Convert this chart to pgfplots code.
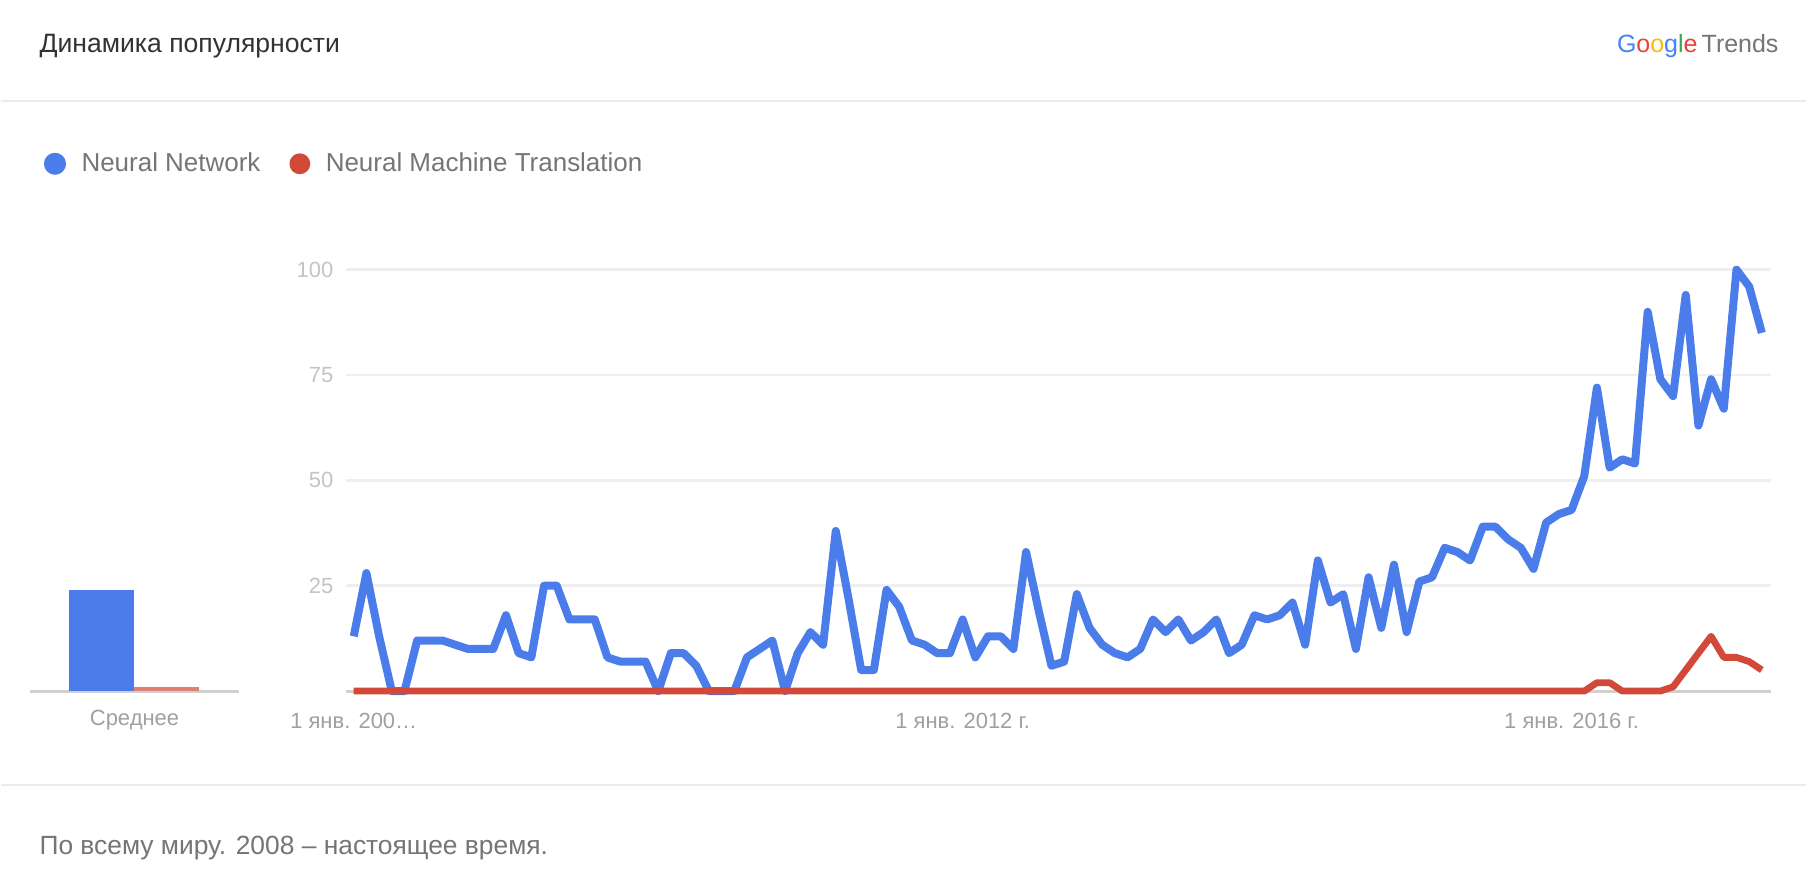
\documentclass[border=0pt]{standalone}
\usepackage{fontspec}
\setmainfont{Liberation Sans}
\usepackage{pgfplots}
\usepackage{pgfplotstable}
\pgfplotsset{compat=1.18}
\definecolor{nnblue}{HTML}{4A7DE9}
\definecolor{nmtred}{HTML}{D2493A}
\definecolor{gridgray}{HTML}{EFEFEF}
\definecolor{basegray}{HTML}{D0D0D0}
\definecolor{sepgray}{HTML}{EBEBEB}
\definecolor{titlegray}{HTML}{333333}
\definecolor{leggray}{HTML}{757575}
\definecolor{ylabgray}{HTML}{C4C4C4}
\definecolor{xlabgray}{HTML}{A0A0A0}
\definecolor{gblue}{HTML}{4285F4}
\definecolor{gred}{HTML}{EA4335}
\definecolor{gyellow}{HTML}{FBBC05}
\definecolor{ggreen}{HTML}{34A853}

\pgfplotstableread{
m nn nmt
0 13 0
1 28 0
2 13 0
3 0 0
4 0 0
5 12 0
6 12 0
7 12 0
8 11 0
9 10 0
10 10 0
11 10 0
12 18 0
13 9 0
14 8 0
15 25 0
16 25 0
17 17 0
18 17 0
19 17 0
20 8 0
21 7 0
22 7 0
23 7 0
24 0 0
25 9 0
26 9 0
27 6 0
28 0 0
29 0 0
30 0 0
31 8 0
32 10 0
33 12 0
34 0 0
35 9 0
36 14 0
37 11 0
38 38 0
39 22 0
40 5 0
41 5 0
42 24 0
43 20 0
44 12 0
45 11 0
46 9 0
47 9 0
48 17 0
49 8 0
50 13 0
51 13 0
52 10 0
53 33 0
54 19 0
55 6 0
56 7 0
57 23 0
58 15 0
59 11 0
60 9 0
61 8 0
62 10 0
63 17 0
64 14 0
65 17 0
66 12 0
67 14 0
68 17 0
69 9 0
70 11 0
71 18 0
72 17 0
73 18 0
74 21 0
75 11 0
76 31 0
77 21 0
78 23 0
79 10 0
80 27 0
81 15 0
82 30 0
83 14 0
84 26 0
85 27 0
86 34 0
87 33 0
88 31 0
89 39 0
90 39 0
91 36 0
92 34 0
93 29 0
94 40 0
95 42 0
96 43 0
97 51 0
98 72 2
99 53 2
100 55 0
101 54 0
102 90 0
103 74 0
104 70 1
105 94 5
106 63 9
107 74 13
108 67 8
109 100 8
110 96 7
111 85 5
}\trends

\begin{document}
\begin{tikzpicture}[x=1pt,y=1pt]
\fill[white] (0,0) rectangle (903.5,442.5);
\node[anchor=west, text=titlegray, font=\fontsize{13.3}{15}\selectfont, inner sep=0pt] at (19,419.5) {Динамика популярности};
\node[anchor=east, font=\fontsize{12.5}{15}\selectfont, inner sep=0pt] at (890,419.5)
  {\textcolor{gblue}{G}\textcolor{gred}{o}\textcolor{gyellow}{o}\textcolor{gblue}{g}\textcolor{ggreen}{l}\textcolor{gred}{e}\,\textcolor{leggray}{Trends}};
\draw[sepgray, line width=1.2pt] (0,392) -- (903.5,392);
\draw[sepgray, line width=1.2pt] (0,49.5) -- (903.5,49.5);
\node[anchor=west, text=leggray, font=\fontsize{13.2}{15}\selectfont, inner sep=0pt] at (19,18) {По всему миру. 2008 – настоящее время.};

\begin{axis}[
  at={(14.5pt,96.5pt)}, anchor=south west, scale only axis,
  width=104.5pt, height=211pt,
  xmin=0, xmax=1, ymin=0, ymax=100,
  axis x line*=bottom, axis y line=none,
  x axis line style={draw=basegray, line width=1.5pt},
  ytick=\empty, xtick={0.5}, xticklabels={Среднее},
  major tick length=0pt, tick style={draw=none},
  xticklabel style={anchor=base, yshift=-17pt, text=xlabgray, font=\fontsize{11}{13}\selectfont},
  ybar, bar width=32.5pt, clip=false,
]
\addplot[fill=nnblue, draw=none, bar shift=0pt] coordinates {(0.342,24)};
\addplot[fill=nmtred!70, draw=none, bar shift=0pt] coordinates {(0.653,1)};
\end{axis}

\begin{axis}[
  at={(172.5pt,96.5pt)}, anchor=south west, scale only axis,
  width=713.5pt, height=211pt,
  xmin=-0.63, xmax=111.71, ymin=0, ymax=100,
  axis x line*=bottom, axis y line*=left,
  y axis line style={draw=none},
  x axis line style={draw=basegray, line width=1.5pt},
  ytick={25,50,75,100}, ymajorgrids,
  grid style={draw=gridgray, line width=1.3pt},
  xtick={0,48,96},
  xticklabels={{1 янв. 200…}, {1 янв. 2012 г.}, {1 янв. 2016 г.}},
  major tick length=0pt, tick style={draw=none},
  xticklabel style={anchor=base, yshift=-18.5pt, text=xlabgray, font=\fontsize{11}{13}\selectfont},
  yticklabel style={inner sep=0pt, xshift=-6pt, text=ylabgray, font=\fontsize{11}{13}\selectfont},
  /pgf/number format/assume math mode=true,
  clip=false,
  legend image code/.code={\fill[#1] (3.5pt,0pt) circle (3.5pt); \path (12.8pt,0pt);},
  legend style={at={(-0.2120,1.2512)}, anchor=west, draw=none, fill=none,
    inner sep=0pt, legend columns=2, text=leggray,
    font=\fontsize{13}{15}\selectfont,
    /tikz/every even column/.append style={column sep=12.5pt}},
]
\addplot[nnblue, line width=4pt, line join=round] table[x=m, y=nn] {\trends};
\addlegendentry{Neural Network}
\addplot[nmtred, line width=3.4pt, line join=round] table[x=m, y=nmt] {\trends};
\addlegendentry{Neural Machine Translation}
\end{axis}
\end{tikzpicture}
\end{document}
